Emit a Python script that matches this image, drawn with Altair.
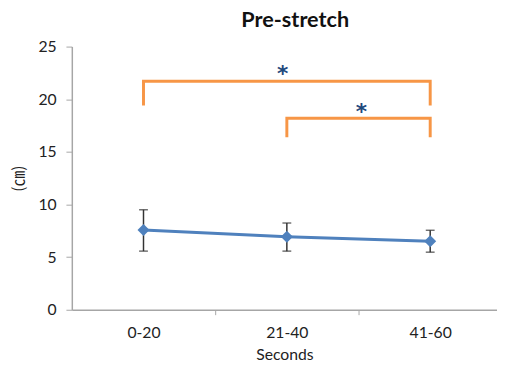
import altair as alt
import pandas as pd

categories = ["0-20", "21-40", "41-60"]
means = [7.58, 6.93, 6.50]
err_hi = [9.50, 8.24, 7.55]
err_lo = [5.57, 5.57, 5.47]

# significance brackets: start index, end index, top value, leg bottom value
br_start = [0, 1]
br_end = [2, 2]
br_top = [21.7, 18.2]
br_bottom = [19.4, 16.4]
star_x = [0.97, 1.52]
star_y = [22.7, 19.1]

idx = list(range(len(categories)))
df = pd.DataFrame({"i": idx, "cat": categories, "mean": means, "hi": err_hi, "lo": err_lo})

rows = []
for b in range(len(br_start)):
    pts = [(br_start[b], br_bottom[b]), (br_start[b], br_top[b]),
           (br_end[b], br_top[b]), (br_end[b], br_bottom[b])]
    for k, (xx, yy) in enumerate(pts):
        rows.append({"b": b, "k": k, "x": xx, "y": yy})
br_df = pd.DataFrame(rows)
star_df = pd.DataFrame({"x": star_x, "y": star_y, "t": ["*"] * len(star_x)})

label_expr = " : ".join(
    f"datum.value == {i} ? '{c}'" for i, c in enumerate(categories)
) + " : ''"

FONT = "Lato"
AXC = "#a6a6a6"

xscale = alt.Scale(domain=[-0.5, 2.466], nice=False, zero=False)
yscale = alt.Scale(domain=[0, 25], nice=False)

xaxis = alt.Axis(
    values=[0, 0.5, 1, 1.5, 2], labelExpr=label_expr, title="Seconds",
    grid=False, domainColor=AXC, domainWidth=1.5,
    tickColor={"condition": {"test": "datum.value % 1 == 0", "value": "transparent"}, "value": AXC},
    tickSize=5, labelPadding=10, labelFont=FONT, labelFontSize=16, labelColor="#222",
    titleFont=FONT, titleFontSize=16, titleFontWeight="normal", titleColor="#222", titlePadding=7,
)
yaxis = alt.Axis(
    values=[0, 5, 10, 15, 20, 25], title="(㎝)", grid=False,
    domainColor=AXC, domainWidth=1.5, tickColor=AXC, tickSize=6, labelPadding=10,
    labelFont=FONT, labelFontSize=16, labelColor="#222",
    titleFont="Noto Sans CJK JP", titleFontSize=16, titleFontWeight="normal", titleColor="#222",
    titlePadding=12,
)

base = alt.Chart(df)
line = base.mark_line(color="#4F81BD", strokeWidth=3).encode(
    x=alt.X("i:Q", scale=xscale, axis=xaxis),
    y=alt.Y("mean:Q", scale=yscale, axis=yaxis),
)
rules = base.mark_rule(color="#333", strokeWidth=1.5).encode(x="i:Q", y="lo:Q", y2="hi:Q")
cap_hi = base.mark_tick(color="#333", orient="horizontal", size=9, thickness=1.5).encode(x="i:Q", y="hi:Q")
cap_lo = base.mark_tick(color="#333", orient="horizontal", size=9, thickness=1.5).encode(x="i:Q", y="lo:Q")
pts = base.mark_point(shape="diamond", filled=True, size=150, color="#4F81BD", opacity=1).encode(
    x="i:Q", y="mean:Q")

brackets = alt.Chart(br_df).mark_line(color="#F79646", strokeWidth=3, strokeJoin="miter").encode(
    x="x:Q", y="y:Q", detail="b:N", order="k:Q")
stars = alt.Chart(star_df).mark_text(
    font="DejaVu Sans", fontSize=22, fontWeight="bold", color="#1F497D", baseline="middle", dy=3
).encode(x="x:Q", y="y:Q", text="t:N")

chart = alt.layer(brackets, stars, line, rules, cap_hi, cap_lo, pts).properties(
    width=433, height=268,
    title=alt.TitleParams("Pre-stretch", font=FONT, fontSize=22, fontWeight="bold",
                          color="#111", anchor="middle", dx=11, offset=7),
    autosize=alt.AutoSizeParams(type="none"),
    padding={"left": 65, "top": 36, "right": 0, "bottom": 56},
).configure_view(stroke=None)

chart.save("out.html", embed_options={"renderer": "svg", "actions": False})
